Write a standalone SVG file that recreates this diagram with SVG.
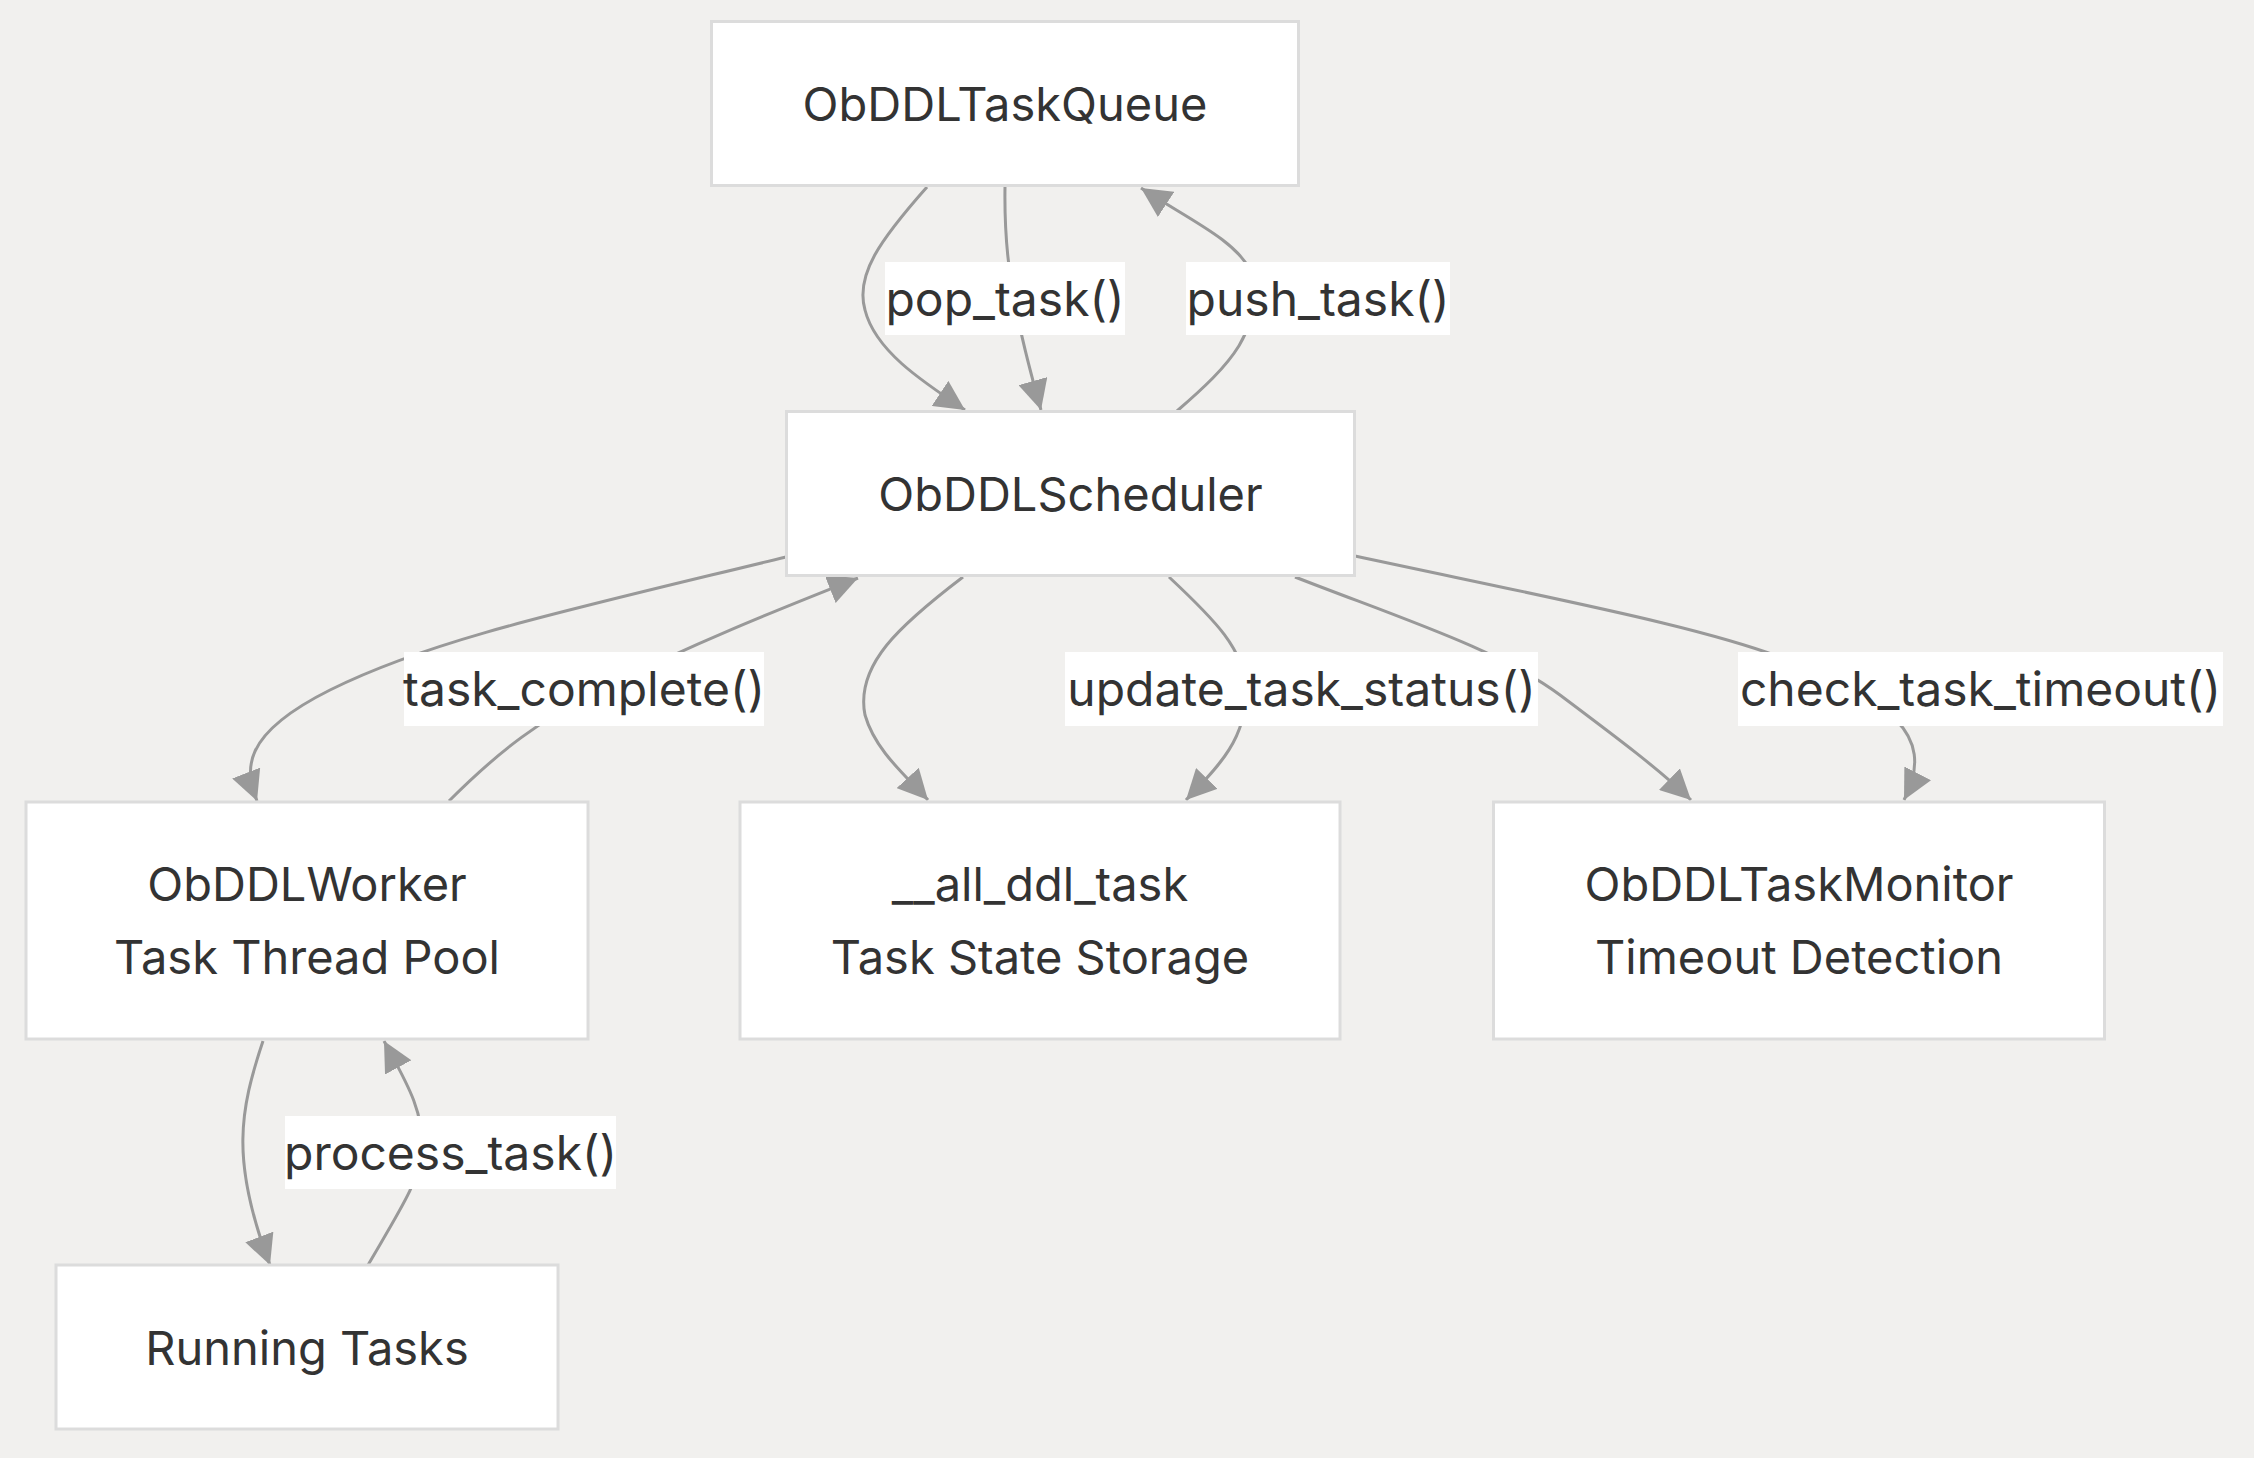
<svg xmlns="http://www.w3.org/2000/svg" width="2254" height="1458" viewBox="0 0 2254 1458">
<defs>
<style>
.node rect{fill:#ffffff;stroke:#dcdcdc;stroke-width:3}
.node text,.lbl text{font-family:"Inter","Liberation Sans",sans-serif;font-size:47px;fill:#333333;text-anchor:middle}
.lbl text{font-size:48px}
.edge{fill:none;stroke:#999999;stroke-width:3}
.lbl rect{fill:#ffffff}
</style>
<marker id="arr" viewBox="0 0 12 12" refX="12" refY="6" markerWidth="10" markerHeight="10" markerUnits="strokeWidth" orient="auto">
<path d="M0,0 L12,6 L0,12 z" fill="#999999"/>
</marker>
</defs>
<rect width="2254" height="1458" fill="#f1f0ee"/>
<g id="connectors">
<path class="edge" marker-end="url(#arr)" d="M927,187 C880,240 855,275 865,310 C875,350 920,380 965,410"/>
<path class="edge" marker-end="url(#arr)" d="M1005,187 C1004,250 1010,300 1041,410"/>
<path class="edge" marker-end="url(#arr)" d="M1177,411 C1230,365 1265,330 1250,270 C1235,240 1190,220 1141,188"/>
<path class="edge" marker-end="url(#arr)" d="M786,557 C560,612 430,640 330,690 C240,735 245,770 257,801"/>
<path class="edge" marker-end="url(#arr)" d="M449,801 C500,750 540,720 600,690 C700,640 790,605 858,578"/>
<path class="edge" marker-end="url(#arr)" d="M963,577 C900,625 855,665 865,715 C875,750 905,775 928,800"/>
<path class="edge" marker-end="url(#arr)" d="M1169,577 C1215,620 1245,650 1246,690 C1247,740 1215,770 1186,800"/>
<path class="edge" marker-end="url(#arr)" d="M1295,577 C1400,618 1500,650 1560,695 C1620,740 1660,770 1691,800"/>
<path class="edge" marker-end="url(#arr)" d="M1355,556 C1560,600 1720,630 1800,665 C1880,700 1940,730 1904,800"/>
<path class="edge" marker-end="url(#arr)" d="M263,1041 C240,1110 230,1160 270,1265"/>
<path class="edge" marker-end="url(#arr)" d="M368,1265 C400,1210 420,1180 422,1150 C424,1110 405,1080 384,1041"/>
<g class="lbl"><rect x="885" y="262" width="240" height="73"/><text x="1005" y="316">pop_task()</text></g>
<g class="lbl"><rect x="1186" y="262" width="264" height="73"/><text x="1318" y="316">push_task()</text></g>
<g class="lbl"><rect x="404" y="652" width="360" height="74"/><text x="584" y="706">task_complete()</text></g>
<g class="lbl"><rect x="1065" y="652" width="473" height="74"/><text x="1301.5" y="706">update_task_status()</text></g>
<g class="lbl"><rect x="1738" y="652" width="485" height="74"/><text x="1980.5" y="706">check_task_timeout()</text></g>
<g class="lbl"><rect x="285" y="1116" width="331" height="73"/><text x="450.5" y="1170">process_task()</text></g>
</g>
<g id="queue" class="node"><rect x="711.5" y="21.5" width="587" height="164"/><text x="1005" y="121">ObDDLTaskQueue</text></g>
<g id="scheduler" class="node"><rect x="786.5" y="411.5" width="568" height="164"/><text x="1070.5" y="511">ObDDLScheduler</text></g>
<g id="worker" class="node"><rect x="26" y="802" width="562" height="237"/><text x="307" y="901">ObDDLWorker</text><text x="307" y="974">Task Thread Pool</text></g>
<g id="ddltask" class="node"><rect x="740" y="802" width="600" height="237"/><text x="1040" y="901">__all_ddl_task</text><text x="1040" y="974">Task State Storage</text></g>
<g id="monitor" class="node"><rect x="1493.5" y="802" width="611" height="237"/><text x="1799" y="901">ObDDLTaskMonitor</text><text x="1799" y="974">Timeout Detection</text></g>
<g id="running" class="node"><rect x="56" y="1265" width="502" height="164"/><text x="307" y="1365">Running Tasks</text></g>
</svg>
